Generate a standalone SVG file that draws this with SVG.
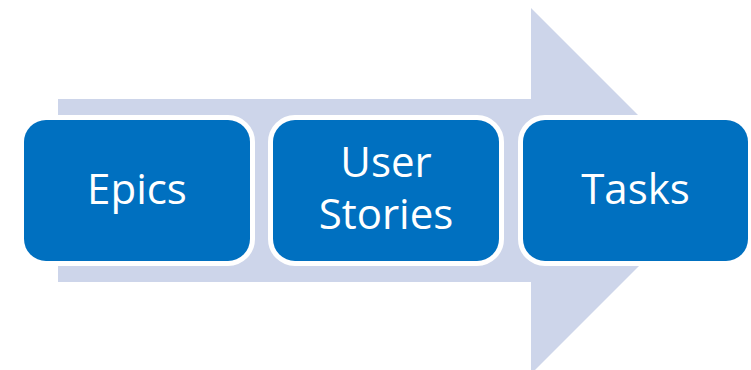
<svg xmlns="http://www.w3.org/2000/svg" width="751" height="370" viewBox="0 0 751 370">
<style>
.box{fill:#0070C0;stroke:#FFFFFF;stroke-width:10;paint-order:stroke}
.lbl{font-family:"Open Sans","Liberation Sans",sans-serif;font-size:42px;fill:#FFFFFF;text-anchor:middle}
</style>
<g id="arrow">
<polygon points="58,99 531,99 531,8 714,191 531,374 531,282 58,282" fill="#CDD5EA"/>
</g>
<g id="connectors"></g>
<g id="epics">
<rect class="box" x="24" y="120" width="226" height="141" rx="22" ry="22"/>
<text class="lbl" x="137" y="204">Epics</text>
</g>
<g id="user-stories">
<rect class="box" x="273" y="120" width="226" height="141" rx="22" ry="22"/>
<text class="lbl" x="386" y="177">User</text>
<text class="lbl" x="386" y="229">Stories</text>
</g>
<g id="tasks">
<rect class="box" x="523" y="120" width="225" height="141" rx="22" ry="22"/>
<text class="lbl" x="635.5" y="204">Tasks</text>
</g>
</svg>
